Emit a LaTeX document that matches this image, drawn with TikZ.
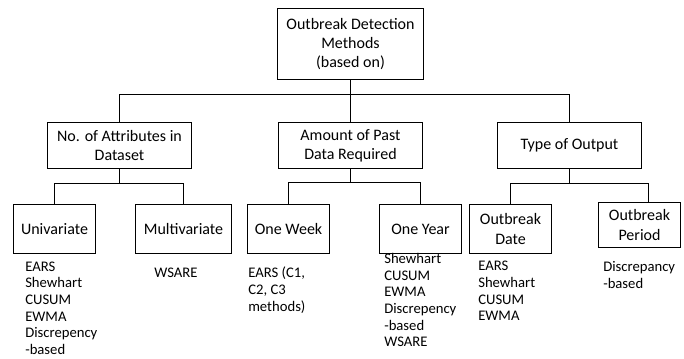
\documentclass[tikz,border=0pt]{standalone}
\usepackage{fontspec}
\setmainfont{Carlito}

\begin{document}
\begin{tikzpicture}[x=0.75pt, y=-0.75pt,
  box/.style={draw, line width=0.75pt, align=center, inner sep=0pt,
    font=\fontsize{12}{14.5}\selectfont},
  list/.style={anchor=north west, align=left, inner sep=0pt,
    font=\fontsize{11}{12.5}\selectfont},
  link/.style={line width=0.75pt}]

\useasboundingbox (0,0) rectangle (684,358);

% top and second level
\node[box, minimum width=109.5pt, minimum height=53.25pt] (root) at (350.5,44)
  {Outbreak Detection\\Methods\\(based on)};
\node[box, minimum width=108pt, minimum height=34.5pt] (attr) at (119.5,145.5)
  {No. of Attributes in\\Dataset};
\node[box, minimum width=108pt, minimum height=34.5pt] (past) at (350.5,145.5)
  {Amount of Past\\Data Required};
\node[box, minimum width=108pt, minimum height=34.5pt] (output) at (569.5,145.5)
  {Type of Output};

% third level
\node[box, minimum width=61.5pt, minimum height=36.75pt] (uni) at (54.5,229) {Univariate};
\node[box, minimum width=72pt, minimum height=36.75pt] (multi) at (183.5,229) {Multivariate};
\node[box, minimum width=61.5pt, minimum height=36.75pt] (week) at (288.5,229) {One Week};
\node[box, minimum width=61.5pt, minimum height=36.75pt] (year) at (420.5,229) {One Year};
\node[box, minimum width=61.5pt, minimum height=36.75pt] (odate) at (510.5,229) {Outbreak\\Date};
\node[box, minimum width=61.5pt, minimum height=33.75pt] (operiod) at (639.5,225) {Outbreak\\Period};

% method lists
\node[list] (luni) at (25,261.5) {EARS\\Shewhart\\CUSUM\\EWMA\\Discrepency\\-based};
\node[list] (lmulti) at (154,267.5) {WSARE};
\node[list] (lweek) at (248,267) {EARS (C1,\\C2, C3\\methods)};
\node[list] (lyear) at (384,253) {Shewhart\\CUSUM\\EWMA\\Discrepency\\-based\\WSARE};
\node[list] (lodate) at (478,261) {EARS\\Shewhart\\CUSUM\\EWMA};
\node[list] (loperiod) at (603,261) {Discrepancy\\-based};

% connectors
\coordinate (J) at (350.5,94.5);
\coordinate (Ja) at (119.5,183.5);
\coordinate (Jp) at (350.5,182.5);
\coordinate (Jo) at (569.5,183.5);

\draw[link] (root) -- (past);
\draw[link] (attr.north) |- (J) -| (output.north);
\draw[link] (attr) -- (Ja);
\draw[link] (uni.north) |- (Ja) -| (multi.north);
\draw[link] (past) -- (Jp);
\draw[link] (week.north) |- (Jp) -| (year.north);
\draw[link] (output) -- (Jo);
\draw[link] (odate.north) |- (Jo) -| ([xshift=6.75pt]operiod.north);

\end{tikzpicture}
\end{document}
